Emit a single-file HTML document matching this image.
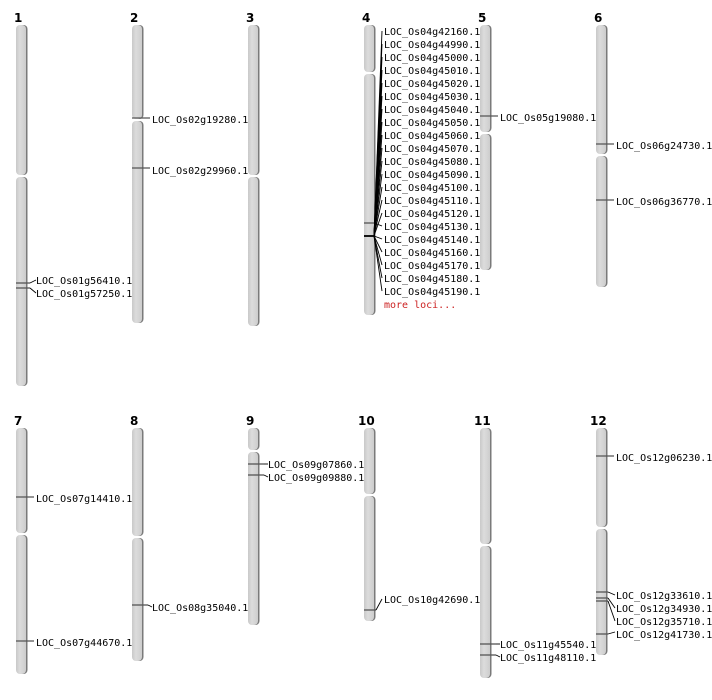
<!DOCTYPE html>
<html><head><meta charset="utf-8"><style>
html,body{margin:0;padding:0;background:#fff}
svg{display:block}
text{font-family:"DejaVu Sans Mono","Liberation Mono",monospace;font-size:10px;fill:#000}
.n{font-family:"DejaVu Sans","Liberation Sans",sans-serif;font-weight:bold;font-size:12px}
.s{fill:#7a7a7a}
.a{fill:url(#g)}
.m{stroke:#555;stroke-width:1.3}
.c{stroke:#000;stroke-width:0.9;fill:none}
</style></head><body>
<svg width="712" height="700" viewBox="0 0 712 700" xmlns="http://www.w3.org/2000/svg">
<defs><linearGradient id="g" x1="0" x2="1" y1="0" y2="0"><stop offset="0" stop-color="#c9c9c9"/><stop offset="0.4" stop-color="#dcdcdc"/><stop offset="1" stop-color="#cdcdcd"/></linearGradient></defs>

<!-- numbers -->
<text class="n" x="14" y="22">1</text><text class="n" x="130" y="22">2</text><text class="n" x="246" y="22">3</text>
<text class="n" x="362" y="22">4</text><text class="n" x="478" y="22">5</text><text class="n" x="594" y="22">6</text>
<text class="n" x="14" y="425">7</text><text class="n" x="130" y="425">8</text><text class="n" x="246" y="425">9</text>
<text class="n" x="358" y="425">10</text><text class="n" x="474" y="425">11</text><text class="n" x="590" y="425">12</text>

<!-- chromosomes: shadow then arm -->
<g>
<rect class="s" x="17.5" y="25" width="10" height="150" rx="4"/><rect class="a" x="16" y="25" width="10" height="150" rx="4"/>
<rect class="s" x="17.5" y="177" width="10" height="209" rx="4"/><rect class="a" x="16" y="177" width="10" height="209" rx="4"/>

<rect class="s" x="133.5" y="25" width="10" height="94" rx="4"/><rect class="a" x="132" y="25" width="10" height="94" rx="4"/>
<rect class="s" x="133.5" y="121" width="10" height="202" rx="4"/><rect class="a" x="132" y="121" width="10" height="202" rx="4"/>

<rect class="s" x="249.5" y="25" width="10" height="150" rx="4"/><rect class="a" x="248" y="25" width="10" height="150" rx="4"/>
<rect class="s" x="249.5" y="177" width="10" height="149" rx="4"/><rect class="a" x="248" y="177" width="10" height="149" rx="4"/>

<rect class="s" x="365.5" y="25" width="10" height="47" rx="4"/><rect class="a" x="364" y="25" width="10" height="47" rx="4"/>
<rect class="s" x="365.5" y="74" width="10" height="241" rx="4"/><rect class="a" x="364" y="74" width="10" height="241" rx="4"/>

<rect class="s" x="481.5" y="25" width="10" height="107" rx="4"/><rect class="a" x="480" y="25" width="10" height="107" rx="4"/>
<rect class="s" x="481.5" y="134" width="10" height="136" rx="4"/><rect class="a" x="480" y="134" width="10" height="136" rx="4"/>

<rect class="s" x="597.5" y="25" width="10" height="129" rx="4"/><rect class="a" x="596" y="25" width="10" height="129" rx="4"/>
<rect class="s" x="597.5" y="156" width="10" height="131" rx="4"/><rect class="a" x="596" y="156" width="10" height="131" rx="4"/>

<rect class="s" x="17.5" y="428" width="10" height="105" rx="4"/><rect class="a" x="16" y="428" width="10" height="105" rx="4"/>
<rect class="s" x="17.5" y="535" width="10" height="139" rx="4"/><rect class="a" x="16" y="535" width="10" height="139" rx="4"/>

<rect class="s" x="133.5" y="428" width="10" height="108" rx="4"/><rect class="a" x="132" y="428" width="10" height="108" rx="4"/>
<rect class="s" x="133.5" y="538" width="10" height="123" rx="4"/><rect class="a" x="132" y="538" width="10" height="123" rx="4"/>

<rect class="s" x="249.5" y="428" width="10" height="22" rx="4"/><rect class="a" x="248" y="428" width="10" height="22" rx="4"/>
<rect class="s" x="249.5" y="452" width="10" height="173" rx="4"/><rect class="a" x="248" y="452" width="10" height="173" rx="4"/>

<rect class="s" x="365.5" y="428" width="10" height="66" rx="4"/><rect class="a" x="364" y="428" width="10" height="66" rx="4"/>
<rect class="s" x="365.5" y="496" width="10" height="125" rx="4"/><rect class="a" x="364" y="496" width="10" height="125" rx="4"/>

<rect class="s" x="481.5" y="428" width="10" height="116" rx="4"/><rect class="a" x="480" y="428" width="10" height="116" rx="4"/>
<rect class="s" x="481.5" y="546" width="10" height="132" rx="4"/><rect class="a" x="480" y="546" width="10" height="132" rx="4"/>

<rect class="s" x="597.5" y="428" width="10" height="99" rx="4"/><rect class="a" x="596" y="428" width="10" height="99" rx="4"/>
<rect class="s" x="597.5" y="529" width="10" height="126" rx="4"/><rect class="a" x="596" y="529" width="10" height="126" rx="4"/>
</g>

<!-- markers & labels -->
<g>
<line class="m" x1="16" y1="283" x2="30" y2="283"/><path class="c" d="M30 283 L36 280"/><text x="36" y="284">LOC_Os01g56410.1</text>
<line class="m" x1="16" y1="288" x2="30" y2="288"/><path class="c" d="M30 288 L36 293"/><text x="36" y="297">LOC_Os01g57250.1</text>

<line class="m" x1="132" y1="118" x2="150" y2="118"/><text x="152" y="123">LOC_Os02g19280.1</text>
<line class="m" x1="132" y1="168" x2="150" y2="168"/><text x="152" y="174">LOC_Os02g29960.1</text>

<line class="m" x1="480" y1="116" x2="498" y2="116"/><text x="500" y="121">LOC_Os05g19080.1</text>

<line class="m" x1="596" y1="144" x2="614" y2="144"/><text x="616" y="149">LOC_Os06g24730.1</text>
<line class="m" x1="596" y1="200" x2="614" y2="200"/><text x="616" y="205">LOC_Os06g36770.1</text>

<line class="m" x1="16" y1="497" x2="34" y2="497"/><text x="36" y="502">LOC_Os07g14410.1</text>
<line class="m" x1="16" y1="641" x2="34" y2="641"/><text x="36" y="646">LOC_Os07g44670.1</text>

<line class="m" x1="132" y1="605" x2="148" y2="605"/><path class="c" d="M148 605 L152 607"/><text x="152" y="611">LOC_Os08g35040.1</text>

<line class="m" x1="248" y1="464" x2="264" y2="464"/><path class="c" d="M264 464 L268 464"/><text x="268" y="468">LOC_Os09g07860.1</text>
<line class="m" x1="248" y1="475" x2="264" y2="475"/><path class="c" d="M264 475 L268 477"/><text x="268" y="481">LOC_Os09g09880.1</text>

<line class="m" x1="364" y1="610" x2="376" y2="610"/><path class="c" d="M376 610 L382 599"/><text x="384" y="603">LOC_Os10g42690.1</text>

<line class="m" x1="480" y1="644" x2="496" y2="644"/><path class="c" d="M496 644 L500 644"/><text x="500" y="648">LOC_Os11g45540.1</text>
<line class="m" x1="480" y1="655" x2="496" y2="655"/><path class="c" d="M496 655 L500 657"/><text x="500" y="661">LOC_Os11g48110.1</text>

<line class="m" x1="596" y1="456" x2="614" y2="456"/><text x="616" y="461">LOC_Os12g06230.1</text>
<line class="m" x1="596" y1="592" x2="608" y2="592"/><path class="c" d="M608 592 L615 595"/><text x="616" y="599">LOC_Os12g33610.1</text>
<line class="m" x1="596" y1="598" x2="608" y2="598"/><path class="c" d="M608 598 L615 608"/><text x="616" y="612">LOC_Os12g34930.1</text>
<line class="m" x1="596" y1="601" x2="608" y2="601"/><path class="c" d="M608 601 L615 621"/><text x="616" y="625">LOC_Os12g35710.1</text>
<line class="m" x1="596" y1="634" x2="608" y2="634"/><path class="c" d="M608 634 L615 632"/><text x="616" y="638">LOC_Os12g41730.1</text>
</g>

<!-- chr4 cluster -->
<g>
<line class="m" x1="364" y1="223" x2="376" y2="223"/>
<line x1="364" y1="236" x2="375" y2="236" stroke="#000" stroke-width="1.8"/>
<path class="c" d="M374 236 L382 31"/><path class="c" d="M374 236 L382 44"/><path class="c" d="M374 236 L382 57"/>
<path class="c" d="M374 236 L382 70"/><path class="c" d="M374 236 L382 83"/><path class="c" d="M374 236 L382 96"/>
<path class="c" d="M374 236 L382 109"/><path class="c" d="M374 236 L382 122"/><path class="c" d="M374 236 L382 135"/>
<path class="c" d="M374 236 L382 148"/><path class="c" d="M374 236 L382 161"/><path class="c" d="M374 236 L382 174"/>
<path class="c" d="M374 236 L382 187"/><path class="c" d="M374 236 L382 200"/><path class="c" d="M374 236 L382 213"/>
<path class="c" d="M374 223 L382 226"/><path class="c" d="M374 236 L382 239"/><path class="c" d="M374 236 L382 252"/>
<path class="c" d="M374 236 L382 265"/><path class="c" d="M374 236 L382 278"/><path class="c" d="M374 236 L382 291"/>
<text x="384" y="35">LOC_Os04g42160.1</text>
<text x="384" y="48">LOC_Os04g44990.1</text>
<text x="384" y="61">LOC_Os04g45000.1</text>
<text x="384" y="74">LOC_Os04g45010.1</text>
<text x="384" y="87">LOC_Os04g45020.1</text>
<text x="384" y="100">LOC_Os04g45030.1</text>
<text x="384" y="113">LOC_Os04g45040.1</text>
<text x="384" y="126">LOC_Os04g45050.1</text>
<text x="384" y="139">LOC_Os04g45060.1</text>
<text x="384" y="152">LOC_Os04g45070.1</text>
<text x="384" y="165">LOC_Os04g45080.1</text>
<text x="384" y="178">LOC_Os04g45090.1</text>
<text x="384" y="191">LOC_Os04g45100.1</text>
<text x="384" y="204">LOC_Os04g45110.1</text>
<text x="384" y="217">LOC_Os04g45120.1</text>
<text x="384" y="230">LOC_Os04g45130.1</text>
<text x="384" y="243">LOC_Os04g45140.1</text>
<text x="384" y="256">LOC_Os04g45160.1</text>
<text x="384" y="269">LOC_Os04g45170.1</text>
<text x="384" y="282">LOC_Os04g45180.1</text>
<text x="384" y="295">LOC_Os04g45190.1</text>
<text x="384" y="308" style="fill:#cc2222">more loci...</text>
</g>
</svg>
</body></html>
